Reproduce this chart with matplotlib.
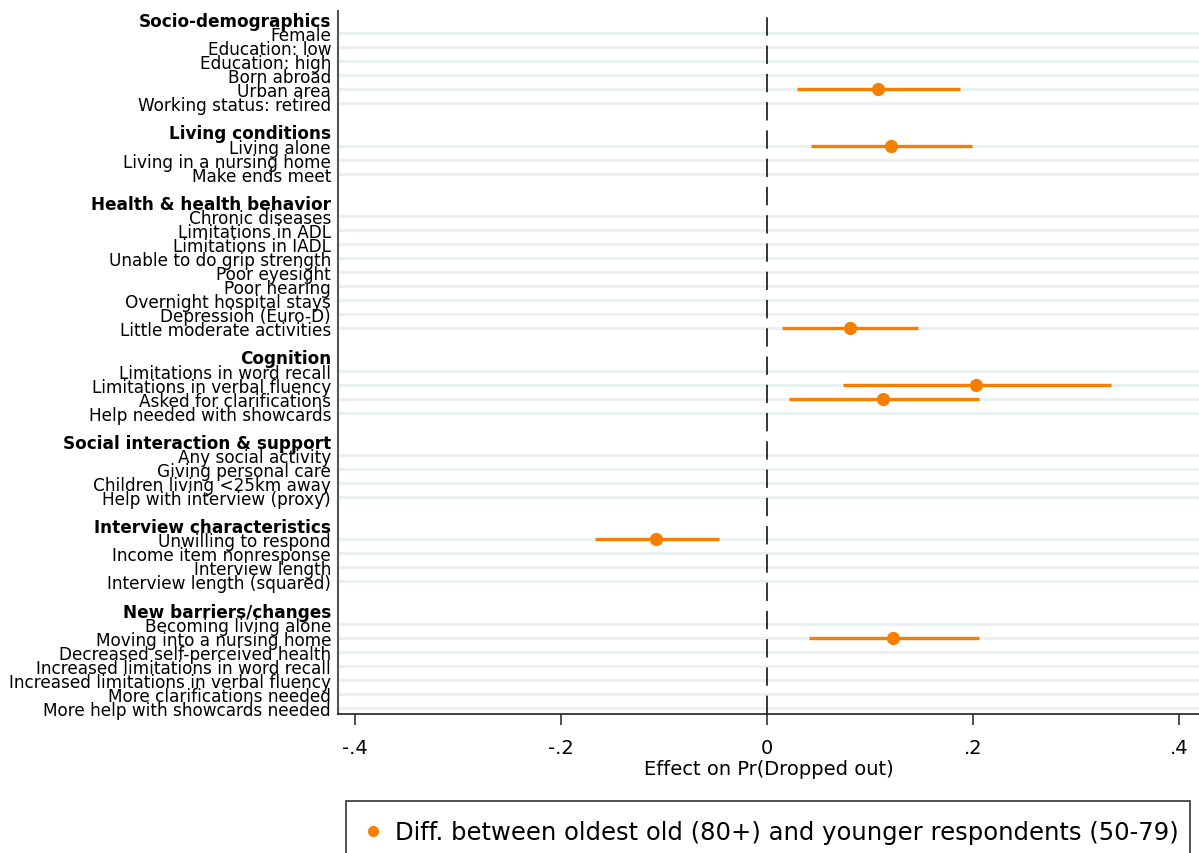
import numpy as np
import matplotlib
matplotlib.use('Agg')
import matplotlib.pyplot as plt
from matplotlib.lines import Line2D

# %% Data

group_names = ['Socio-demographics', 'Living conditions', 'Health & health behavior',
               'Cognition', 'Social interaction & support', 'Interview characteristics',
               'New barriers/changes']

socio = ['Female', 'Education: low', 'Education: high', 'Born abroad', 'Urban area',
         'Working status: retired']
living = ['Living alone', 'Living in a nursing home', 'Make ends meet']
health = ['Chronic diseases', 'Limitations in ADL', 'Limitations in IADL',
          'Unable to do grip strength', 'Poor eyesight', 'Poor hearing',
          'Overnight hospital stays', 'Depression (Euro-D)', 'Little moderate activities']
cognition = ['Limitations in word recall', 'Limitations in verbal fluency',
             'Asked for clarifications', 'Help needed with showcards']
social = ['Any social activity', 'Giving personal care', 'Children living <25km away',
          'Help with interview (proxy)']
interview = ['Unwilling to respond', 'Income item nonresponse', 'Interview length',
             'Interview length (squared)']
barriers = ['Becoming living alone', 'Moving into a nursing home',
            'Decreased self-perceived health', 'Increased limitations in word recall',
            'Increased limitations in verbal fluency', 'More clarifications needed',
            'More help with showcards needed']

# estimates shown in the figure (others not drawn)
est_labels = ['Urban area', 'Living alone', 'Little moderate activities',
              'Limitations in verbal fluency', 'Asked for clarifications',
              'Unwilling to respond', 'Moving into a nursing home']
est_coef = [0.108, 0.120, 0.081, 0.203, 0.113, -0.108, 0.122]
est_lo = [0.029, 0.043, 0.015, 0.074, 0.021, -0.167, 0.041]
est_hi = [0.187, 0.199, 0.147, 0.334, 0.206, -0.047, 0.206]

xticks = [-0.4, -0.2, 0, 0.2, 0.4]
xticklabels = ['-.4', '-.2', '0', '.2', '.4']

# %% Build rows

groups = [socio, living, health, cognition, social, interview, barriers]
row_labels = []
row_is_header = []
for i, (g, items) in enumerate(zip(group_names, groups)):
    if i > 0:
        row_labels.append('')
        row_is_header.append(False)
    row_labels.append(g)
    row_is_header.append(True)
    for it in items:
        row_labels.append(it)
        row_is_header.append(False)
row_pos = np.arange(len(row_labels))

orange = '#f77f00'

fig = plt.figure(figsize=(11.99, 8.54), dpi=100)
ax = fig.add_axes([338/1199, 1-715/854, 1-338/1199, (715-12)/854])

# light grid lines for item rows
for y, lab, hd in zip(row_pos, row_labels, row_is_header):
    if lab != '' and not hd:
        ax.axhline(y, color='#e9f1f3', lw=2.2, zorder=0)

ax.axvline(0, color='black', lw=1.1, dashes=(12, 6.5), zorder=1)

ypos = [row_labels.index(l) for l in est_labels]
ax.errorbar(est_coef, ypos,
            xerr=[np.array(est_coef) - np.array(est_lo), np.array(est_hi) - np.array(est_coef)],
            fmt='o', color=orange, ms=8.5, elinewidth=2.4, capsize=0, zorder=3)

ax.set_ylim(len(row_labels) - 1 + 0.43, -0.57)
ax.set_xlim((338 - 767) / 1030, (1199 - 767) / 1030)

ax.set_yticks(row_pos)
ax.set_yticklabels(row_labels, fontsize=12.2)
for t, hd in zip(ax.get_yticklabels(), row_is_header):
    if hd:
        t.set_fontweight('bold')
ax.tick_params(axis='y', length=0, pad=5)

ax.set_xticks(xticks)
ax.set_xticklabels(xticklabels, fontsize=14)
ax.tick_params(axis='x', length=8, width=1.2, pad=9, color='#333333')
ax.set_xlabel('Effect on Pr(Dropped out)', fontsize=14, labelpad=2)

for s in ['top', 'right']:
    ax.spines[s].set_visible(False)
ax.spines['left'].set_color('#555555')
ax.spines['left'].set_linewidth(1.5)
ax.spines['bottom'].set_color('#222222')
ax.spines['bottom'].set_linewidth(1.2)

handle = Line2D([], [], marker='o', color=orange, ls='none', ms=7)
leg = fig.legend([handle], ['Diff. between oldest old (80+) and younger respondents (50-79)'],
                 loc='upper left', bbox_to_anchor=(346/1199, 1-802/854, (1190-346)/1199, 0.0),
                 mode='expand', fontsize=17.5, frameon=True, fancybox=False, borderpad=0.8,
                 handlelength=0.6, handletextpad=0.6, borderaxespad=0)
leg.get_frame().set_edgecolor('black')
leg.get_frame().set_linewidth(1.2)

fig.savefig('out.png', dpi=100)
